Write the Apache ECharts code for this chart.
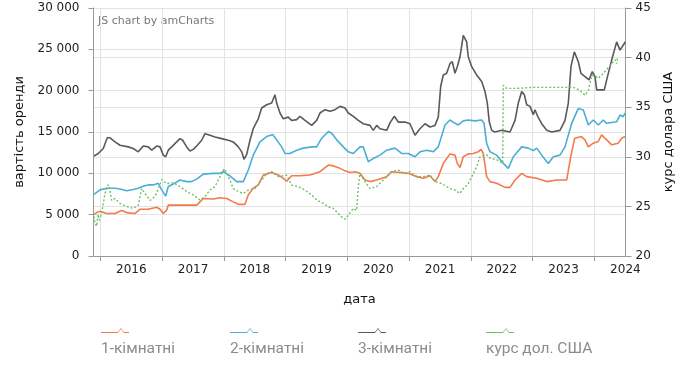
<!DOCTYPE html>
<html>
<head>
<meta charset="utf-8">
<script src="https://cdn.jsdelivr.net/npm/echarts@6/dist/echarts.min.js"></script>
<style>
html,body{margin:0;padding:0;background:#fff;}
#chart{width:697px;height:374px;}
</style>
</head>
<body>
<div id="chart"></div>
<script>
// ---- data (dates as decimal years) ----
const seriesNames = ['1-кімнатні', '2-кімнатні', '3-кімнатні', 'курс дол. США'];
const yearTicks = [2016, 2017, 2018, 2019, 2020, 2021, 2022, 2023, 2024];
const yearLabelPositions = [2016.5, 2017.5, 2018.5, 2019.5, 2020.5, 2021.5, 2022.5, 2023.5, 2024.5];

const oneRoomDates = [2015.895,2015.95,2015.992,2016.100,2016.235,2016.343,2016.424,2016.559,2016.640,2016.774,2016.910,2016.964,2017.017,2017.072,2017.098,2017.287,2017.558,2017.611,2017.665,2017.827,2017.935,2018.044,2018.151,2018.232,2018.340,2018.394,2018.474,2018.555,2018.636,2018.772,2018.879,2018.960,2019.015,2019.096,2019.231,2019.393,2019.555,2019.689,2019.770,2019.879,2019.960,2020.040,2020.121,2020.202,2020.283,2020.364,2020.473,2020.635,2020.715,2020.850,2020.985,2021.121,2021.228,2021.336,2021.417,2021.470,2021.551,2021.660,2021.741,2021.778,2021.822,2021.875,2021.956,2022.037,2022.118,2022.162,2022.199,2022.254,2022.308,2022.416,2022.551,2022.632,2022.713,2022.821,2022.902,2023.064,2023.226,2023.388,2023.550,2023.615,2023.679,2023.787,2023.846,2023.900,2023.980,2024.061,2024.115,2024.197,2024.278,2024.386,2024.440,2024.494];
const oneRoomRent = [5000,5300,5400,5150,5150,5500,5250,5150,5650,5650,5900,5650,5150,5550,6150,6150,6150,6550,6950,6900,7050,6950,6550,6250,6250,7400,8200,8600,9800,10100,9800,9400,9050,9700,9700,9800,10200,11000,10900,10600,10300,10100,10200,10000,9200,9000,9200,9600,10200,10100,10000,9600,9400,9700,9000,9600,11200,12350,12200,11200,10700,12000,12350,12400,12600,12900,12400,9600,9000,8800,8300,8300,9200,10000,9600,9400,9000,9200,9200,12000,14250,14450,14050,13200,13650,13850,14650,14050,13450,13650,14250,14450];

const twoRoomDates = [2015.895,2015.992,2016.100,2016.235,2016.316,2016.424,2016.531,2016.612,2016.693,2016.774,2016.855,2016.936,2016.991,2017.056,2017.098,2017.179,2017.287,2017.396,2017.477,2017.558,2017.665,2017.827,2017.935,2017.989,2018.097,2018.206,2018.313,2018.394,2018.474,2018.583,2018.691,2018.789,2018.853,2018.934,2018.988,2019.069,2019.177,2019.284,2019.420,2019.501,2019.582,2019.689,2019.744,2019.825,2019.932,2020.013,2020.094,2020.202,2020.256,2020.337,2020.418,2020.526,2020.635,2020.769,2020.878,2020.985,2021.093,2021.174,2021.283,2021.389,2021.470,2021.579,2021.660,2021.741,2021.794,2021.875,2021.956,2022.065,2022.173,2022.211,2022.254,2022.308,2022.416,2022.523,2022.604,2022.685,2022.821,2022.928,2023.009,2023.064,2023.145,2023.252,2023.333,2023.441,2023.522,2023.631,2023.738,2023.819,2023.900,2023.980,2024.061,2024.142,2024.197,2024.359,2024.413,2024.466,2024.494];
const twoRoomRent = [7450,8000,8200,8200,8100,7900,8050,8200,8450,8600,8600,8800,8000,7250,8400,8700,9200,9000,9000,9300,9900,10000,10000,10200,9700,9000,9000,10400,12200,13800,14450,14700,14050,13200,12400,12400,12800,13050,13200,13200,14250,15050,14850,14050,13200,12600,12400,13200,13200,11400,11800,12200,12800,13050,12400,12400,12000,12600,12800,12600,13200,15850,16450,16050,15850,16350,16450,16350,16450,16050,13600,12600,12200,11200,10600,12000,13200,13050,12750,13050,12200,11200,12000,12200,13200,16050,17850,17650,15850,16450,15850,16450,16050,16250,17050,16850,17300];

const threeRoomDates = [2015.895,2015.964,2016.045,2016.110,2016.154,2016.235,2016.316,2016.450,2016.531,2016.612,2016.640,2016.693,2016.774,2016.829,2016.910,2016.964,2017.017,2017.056,2017.098,2017.153,2017.234,2017.287,2017.331,2017.396,2017.449,2017.503,2017.568,2017.639,2017.692,2017.773,2017.854,2017.963,2018.070,2018.151,2018.232,2018.287,2018.324,2018.368,2018.421,2018.474,2018.555,2018.610,2018.691,2018.772,2018.826,2018.853,2018.907,2018.960,2019.041,2019.096,2019.177,2019.231,2019.312,2019.420,2019.501,2019.555,2019.636,2019.717,2019.798,2019.879,2019.960,2020.013,2020.094,2020.175,2020.256,2020.364,2020.418,2020.473,2020.526,2020.635,2020.688,2020.758,2020.823,2020.931,2021.012,2021.093,2021.174,2021.255,2021.336,2021.417,2021.470,2021.509,2021.551,2021.606,2021.660,2021.697,2021.741,2021.778,2021.822,2021.875,2021.903,2021.930,2021.956,2022.011,2022.092,2022.173,2022.227,2022.264,2022.296,2022.335,2022.389,2022.497,2022.632,2022.713,2022.766,2022.821,2022.864,2022.902,2022.956,2023.009,2023.036,2023.080,2023.145,2023.226,2023.307,2023.441,2023.522,2023.576,2023.619,2023.673,2023.738,2023.781,2023.846,2023.911,2023.964,2024.008,2024.035,2024.159,2024.197,2024.278,2024.359,2024.413,2024.483,2024.494];
const threeRoomRent = [12100,12400,13000,14300,14300,13800,13400,13200,13000,12600,12600,13300,13200,12800,13300,13200,12200,12000,12800,13200,13800,14200,14000,13200,12700,12900,13400,14000,14800,14600,14400,14200,14000,13800,13200,12600,11700,12300,14000,15400,16600,17900,18300,18500,19500,18500,17300,16600,16800,16400,16500,16900,16400,15800,16400,17300,17700,17500,17700,18100,17900,17300,16900,16400,16000,15800,15200,15800,15400,15200,16100,16900,16200,16200,16000,14600,15400,16000,15600,15800,16800,20500,21900,22100,23300,23500,22100,22900,24100,26700,26900,25900,24100,22900,21900,21100,19900,18500,16250,15200,15000,15200,15000,16400,18500,19900,19500,18300,18100,17100,17700,16900,16000,15200,15000,15200,16400,18500,22900,24700,23500,22100,21700,21300,22300,21700,20100,20100,21300,23700,25900,24900,25700,25900];

const usdDates = [2015.895,2015.911,2015.938,2015.960,2015.981,2016.019,2016.073,2016.126,2016.154,2016.181,2016.235,2016.316,2016.424,2016.531,2016.612,2016.667,2016.721,2016.802,2016.883,2016.952,2016.991,2017.072,2017.179,2017.287,2017.396,2017.503,2017.611,2017.692,2017.773,2017.854,2017.935,2018.005,2018.070,2018.151,2018.232,2018.313,2018.394,2018.502,2018.610,2018.691,2018.772,2018.879,2019.015,2019.096,2019.203,2019.312,2019.420,2019.501,2019.608,2019.689,2019.770,2019.851,2019.906,2019.960,2020.013,2020.040,2020.094,2020.149,2020.175,2020.202,2020.283,2020.364,2020.473,2020.580,2020.715,2020.823,2020.931,2021.012,2021.121,2021.228,2021.336,2021.417,2021.525,2021.660,2021.741,2021.822,2021.875,2021.956,2022.037,2022.092,2022.146,2022.254,2022.308,2022.416,2022.513,2022.523,2022.578,2022.740,2023.009,2023.279,2023.495,2023.657,2023.765,2023.846,2023.900,2023.955,2024.008,2024.061,2024.142,2024.251,2024.332,2024.359,2024.375];
const usdRate = [24.0,23.3,23.0,24.2,23.6,24.3,26.3,27.2,26.6,25.6,25.8,25.3,25.0,24.8,25.1,26.8,26.3,25.6,26.0,27.0,27.7,27.3,27.4,27.0,26.5,26.15,25.65,26.0,26.65,27.0,28.0,28.8,28.0,26.8,26.5,26.3,26.65,26.8,27.65,28.3,28.5,28.0,28.15,27.15,27.0,26.65,26.15,25.65,25.3,24.95,24.8,24.3,23.95,23.7,24.1,24.3,24.8,24.6,27.0,28.3,27.5,26.8,27.0,27.65,28.5,28.65,28.3,28.5,28.0,28.0,28.15,27.5,27.3,26.8,26.65,26.3,26.8,27.3,28.3,29.0,30.0,30.2,29.85,29.7,29.35,37.2,36.9,36.9,37.0,37.0,37.0,37.0,36.7,36.2,36.7,38.2,38.2,37.9,38.4,39.2,39.8,39.4,40.1];

const seriesColors = ['#f47a4a', '#4aaed6', '#5a5a5a', '#6cc065'];

const pair = (d, v) => d.map((x, i) => [x, v[i]]);
const fmtThousands = v => String(v).replace(/\B(?=(\d{3})+(?!\d))/g, ' ');

const chart = echarts.init(document.getElementById('chart'), null, {renderer: 'canvas'});

const axisFont = {fontFamily: 'DejaVu Sans', fontSize: 12, color: '#222'};
const gridLine = {show: true, lineStyle: {color: '#e3e3e3', width: 1}};
const axisLineStyle = {show: true, lineStyle: {color: '#999', width: 1}};

const legendLeft = [101, 230, 358, 486];
const legends = [];
seriesNames.forEach((n, i) => {
  legends.push({
    left: legendLeft[i], top: 328, padding: 0,
    itemWidth: 28, itemHeight: 5, selectedMode: false,
    icon: 'path://M0,4 L17,4 L20,0 L23,4 L28,4 L28,5 L23,5 L20,1 L17,5 L0,5 Z',
    formatter: () => '',
    textStyle: {fontSize: 1},
    data: [{name: n, itemStyle: {color: seriesColors[i], borderWidth: 0}}]
  });
  legends.push({
    left: legendLeft[i] - 5, top: 341, padding: 0,
    itemWidth: 0, itemHeight: 16, selectedMode: false,
    icon: 'none',
    textStyle: {fontFamily: 'Roboto', fontSize: 15.5, color: '#8c8c8c'},
    data: [{name: n}]
  });
});

const option = {
  animation: false,
  backgroundColor: '#fff',
  grid: {left: 93.5, right: 71.5, top: 8, bottom: 118, containLabel: false},
  graphic: [{
    type: 'text', left: 98, top: 16,
    style: {text: 'JS chart by amCharts', font: '11px "DejaVu Sans"', fill: '#777'}
  }],
  legend: legends,
  xAxis: {
    type: 'value', min: 2015.887, max: 2024.502,
    name: 'дата', nameLocation: 'middle', nameGap: 37,
    nameTextStyle: {fontFamily: 'DejaVu Sans', fontSize: 13, color: '#111'},
    axisLine: {show: true, onZero: false, lineStyle: {color: '#999'}},
    axisTick: {show: true, length: 5, lineStyle: {color: '#999'}, customValues: yearTicks},
    splitLine: gridLine,
    axisLabel: Object.assign({margin: 8, customValues: yearLabelPositions, formatter: v => String(Math.floor(v)), showMinLabel: true, showMaxLabel: true}, axisFont)
  },
  yAxis: [{
    type: 'value', min: 0, max: 30000, interval: 5000, position: 'left',
    name: 'вартість оренди', nameLocation: 'middle', nameGap: 64,
    nameTextStyle: {fontFamily: 'DejaVu Sans', fontSize: 13, color: '#111'},
    axisLine: axisLineStyle,
    axisTick: {show: true, length: 5, lineStyle: {color: '#999'}},
    splitLine: gridLine,
    axisLabel: Object.assign({margin: 14, formatter: fmtThousands}, axisFont)
  }, {
    type: 'value', min: 20, max: 45, interval: 5, position: 'right',
    name: 'курс долара США', nameLocation: 'middle', nameGap: 37,
    nameTextStyle: {fontFamily: 'DejaVu Sans', fontSize: 13, color: '#111'},
    axisLine: axisLineStyle,
    axisTick: {show: true, length: 6, lineStyle: {color: '#999'}},
    splitLine: gridLine,
    axisLabel: Object.assign({margin: 10}, axisFont)
  }],
  series: [
    {name: seriesNames[0], type: 'line', yAxisIndex: 0, showSymbol: false, symbol: 'none',
     data: pair(oneRoomDates, oneRoomRent), lineStyle: {color: seriesColors[0], width: 1.6}, itemStyle: {color: seriesColors[0]}},
    {name: seriesNames[1], type: 'line', yAxisIndex: 0, showSymbol: false, symbol: 'none',
     data: pair(twoRoomDates, twoRoomRent), lineStyle: {color: seriesColors[1], width: 1.6}, itemStyle: {color: seriesColors[1]}},
    {name: seriesNames[2], type: 'line', yAxisIndex: 0, showSymbol: false, symbol: 'none',
     data: pair(threeRoomDates, threeRoomRent), lineStyle: {color: seriesColors[2], width: 1.6}, itemStyle: {color: seriesColors[2]}},
    {name: seriesNames[3], type: 'line', yAxisIndex: 1, showSymbol: false, symbol: 'none',
     data: pair(usdDates, usdRate), lineStyle: {color: seriesColors[3], width: 1.4, type: [2, 2]}, itemStyle: {color: seriesColors[3]}}
  ]
};
chart.setOption(option);
</script>
</body>
</html>
